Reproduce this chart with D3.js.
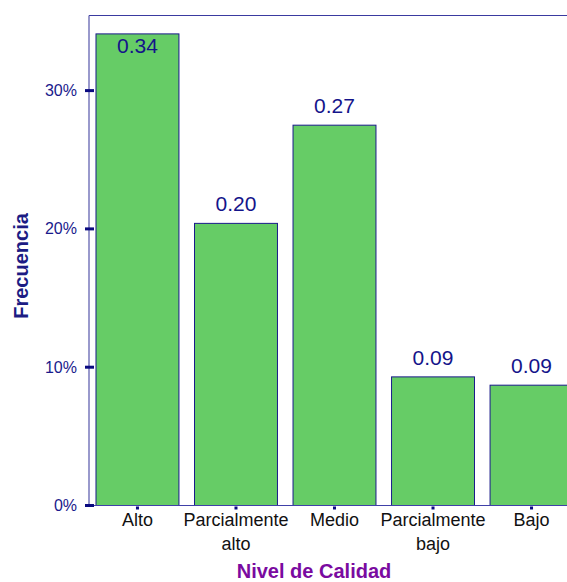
<!DOCTYPE html>
<html>
<head>
<meta charset="utf-8">
<script src="https://cdn.jsdelivr.net/npm/d3@7"></script>
<style>
  body { margin: 0; background: #fff; overflow: hidden; }
  svg { display: block; font-family: "Liberation Sans", Arial, sans-serif; }
</style>
</head>
<body>
<div id="chart"></div>
<script>
var categories = ["Alto", "Parcialmente alto", "Medio", "Parcialmente bajo", "Bajo"];
var labelLines = [["Alto"], ["Parcialmente", "alto"], ["Medio"], ["Parcialmente", "bajo"], ["Bajo"]];
var values = [0.341, 0.204, 0.275, 0.093, 0.087];
var valueLabels = ["0.34", "0.20", "0.27", "0.09", "0.09"];
var yTicks = [0, 0.1, 0.2, 0.3];

var width = 567,
    height = 582;

var plotLeft = 89, plotTop = 15.5, plotBottom = 505.5, plotRight = 580;

var x = d3.scaleBand()
    .domain(categories)
    .range([plotLeft, plotRight])
    .paddingInner(0.158)
    .paddingOuter(0.071);

var y = d3.scaleLinear()
    .domain([0, 0.1])
    .range([plotBottom, plotBottom - 138.3]);

var svg = d3.select("#chart").append("svg")
    .attr("width", width)
    .attr("height", height);

// frame lines
svg.append("line")
    .attr("x1", plotLeft).attr("x2", width)
    .attr("y1", plotTop).attr("y2", plotTop)
    .attr("stroke", "#3a3aa0").attr("stroke-width", 1);
svg.append("line")
    .attr("x1", plotLeft).attr("x2", plotLeft)
    .attr("y1", plotTop).attr("y2", plotBottom)
    .attr("stroke", "#5555aa").attr("stroke-width", 1.2);

// bars
svg.selectAll("rect.bar")
    .data(values)
  .enter().append("rect")
    .attr("class", "bar")
    .attr("x", function(d, i) { return x(categories[i]); })
    .attr("y", function(d) { return y(d); })
    .attr("width", x.bandwidth())
    .attr("height", function(d) { return y(0) - y(d); })
    .attr("fill", "#66cc66")
    .attr("stroke", "#1a1a8a")
    .attr("stroke-width", 1);

// bottom axis line
svg.append("line")
    .attr("x1", plotLeft).attr("x2", width)
    .attr("y1", plotBottom).attr("y2", plotBottom)
    .attr("stroke", "#4040a8").attr("stroke-width", 1.2);

// value labels (inside the bar when there is no room above it)
svg.selectAll("text.val")
    .data(values)
  .enter().append("text")
    .attr("class", "val")
    .attr("x", function(d, i) { return x(categories[i]) + x.bandwidth() / 2; })
    .attr("y", function(d) {
      var yy = y(d) - 12;
      return yy - 16 < plotTop ? y(d) + 19 : yy;
    })
    .attr("text-anchor", "middle")
    .attr("font-size", 21)
    .attr("fill", "#14148a")
    .text(function(d, i) { return valueLabels[i]; });

// y ticks
var yt = svg.append("g");
yt.selectAll("rect")
    .data(yTicks)
  .enter().append("rect")
    .attr("x", plotLeft - 4)
    .attr("y", function(d) { return y(d) - 1.5; })
    .attr("width", 9)
    .attr("height", 3)
    .attr("fill", "#0a0a80");
yt.selectAll("text")
    .data(yTicks)
  .enter().append("text")
    .attr("x", 77)
    .attr("y", function(d) { return y(d) + 5.5; })
    .attr("text-anchor", "end")
    .attr("font-size", 16)
    .attr("fill", "#1a1a8c")
    .text(d3.format(".0%"));

// x ticks and labels
var xt = svg.append("g");
xt.selectAll("rect")
    .data(categories)
  .enter().append("rect")
    .attr("x", function(d) { return x(d) + x.bandwidth() / 2 - 1.5; })
    .attr("y", plotBottom + 1)
    .attr("width", 3)
    .attr("height", 3)
    .attr("fill", "#0a0a80");
xt.selectAll("text")
    .data(categories)
  .enter().append("text")
    .attr("x", function(d) { return x(d) + x.bandwidth() / 2; })
    .attr("y", 526)
    .attr("text-anchor", "middle")
    .attr("font-size", 18)
    .attr("fill", "#111")
    .each(function(d, i) {
      var t = d3.select(this);
      labelLines[i].forEach(function(line, j) {
        t.append("tspan")
          .attr("x", x(d) + x.bandwidth() / 2)
          .attr("dy", j === 0 ? 0 : 24)
          .text(line);
      });
    });

// axis titles
svg.append("text")
    .attr("x", 314)
    .attr("y", 578)
    .attr("text-anchor", "middle")
    .attr("font-size", 20)
    .attr("font-weight", "bold")
    .attr("fill", "#7a0aa0")
    .text("Nivel de Calidad");

svg.append("text")
    .attr("transform", "translate(28,266) rotate(-90)")
    .attr("text-anchor", "middle")
    .attr("font-size", 20)
    .attr("font-weight", "bold")
    .attr("fill", "#1c1c84")
    .text("Frecuencia");
</script>
</body>
</html>
